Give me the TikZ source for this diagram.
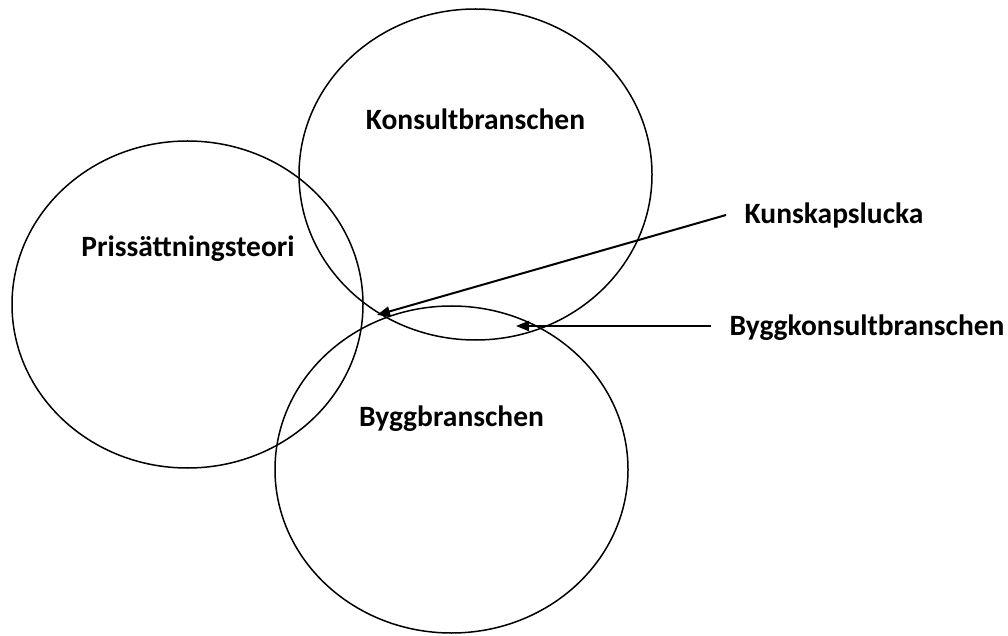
\documentclass[tikz,border=0pt]{standalone}
\usepackage{fontspec}
\setmainfont{Carlito}
\usetikzlibrary{shapes.geometric,arrows.meta}
\begin{document}
\begin{tikzpicture}[x=1pt,y=1pt,
  area/.style={draw=black,line width=1.5pt,ellipse,inner sep=0pt},
  lbl/.style={font=\fontsize{29.5}{32}\selectfont\bfseries,anchor=base,inner sep=0pt},
  pointer/.style={line width=2pt,-{Triangle[length=13pt,width=10pt]}}]
\useasboundingbox (0,0) rectangle (1008,635);
% the three overlapping fields
\node[area,minimum width=353,minimum height=331] (konsult) at (475.5,460.5) {};
\node[area,minimum width=351,minimum height=327] (pris) at (187.5,330.5) {};
\node[area,minimum width=353,minimum height=327] (bygg) at (451.5,165.5) {};
% field names
\node[lbl] (tkonsult) at (475.5,505) {Konsultbranschen};
\node[lbl] (tpris) at (188,378) {Prissättningsteori};
\node[lbl] (tbygg) at (451.5,209) {Byggbranschen};
% callout labels
\node[lbl] (tlucka) at (834,411) {Kunskapslucka};
\node[lbl] (tbk) at (867,299) {Byggkonsultbranschen};
% pointer ends
\coordinate (lstart) at (726,420);
\coordinate (ltip) at (377,320);
\coordinate (bstart) at (711,309);
\coordinate (btip) at (516,309);
\draw[pointer] (lstart) -- (ltip);
\draw[pointer] (bstart) -- (btip);
\end{tikzpicture}
\end{document}
